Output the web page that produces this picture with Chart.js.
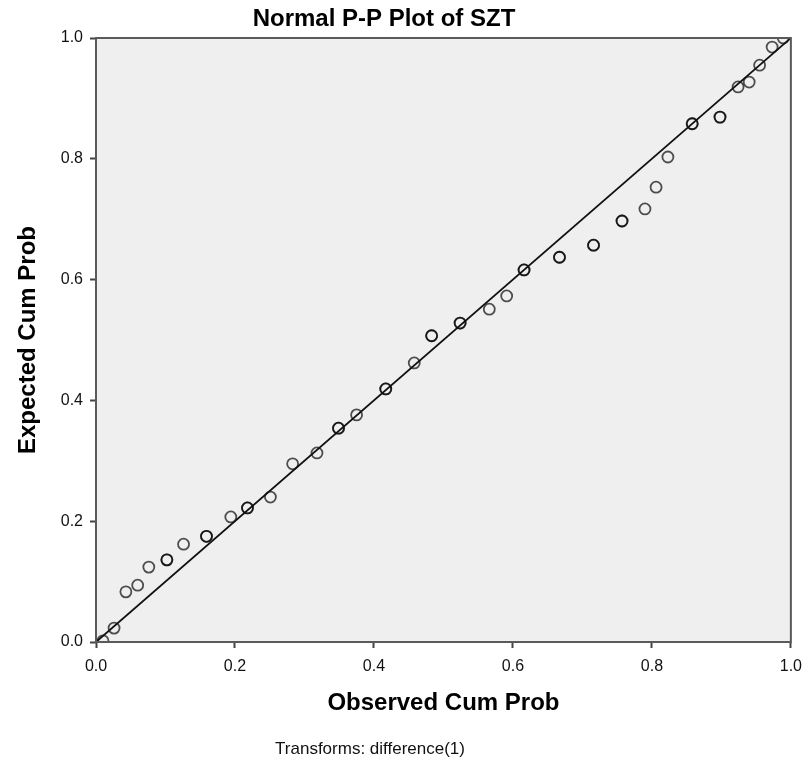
<!DOCTYPE html>
<html>
<head>
<meta charset="utf-8">
<script src="https://cdn.jsdelivr.net/npm/chart.js@4.4.1/dist/chart.umd.min.js"></script>
<style>
  html, body { margin: 0; padding: 0; background: #fff; }
  #container-canvas { width: 811px; height: 769px; }
</style>
</head>
<body>
<div id="container-canvas"><canvas id="ppChart"></canvas></div>
<script>
// observed vs expected cumulative probabilities
const observedCumProb = [0.010, 0.026, 0.043, 0.060, 0.076, 0.102, 0.126, 0.159, 0.194, 0.218,
  0.251, 0.283, 0.318, 0.349, 0.375, 0.417, 0.458, 0.483, 0.524, 0.566,
  0.591, 0.616, 0.667, 0.716, 0.757, 0.790, 0.806, 0.823, 0.858, 0.898,
  0.924, 0.940, 0.955, 0.973, 0.989]
const expectedCumProb = [0.002, 0.023, 0.083, 0.094, 0.124, 0.136, 0.162, 0.175, 0.207, 0.222,
  0.240, 0.295, 0.313, 0.354, 0.376, 0.419, 0.462, 0.507, 0.528, 0.551,
  0.573, 0.616, 0.637, 0.657, 0.697, 0.717, 0.753, 0.803, 0.858, 0.869,
  0.919, 0.927, 0.955, 0.985, 1.000]
// cases sharing the same point (drawn on top of each other, so they look darker)
const tiedCases = [1, 1, 1, 1, 1, 2, 1, 2, 1, 2,
  1, 1, 1, 2, 1, 2, 1, 2, 2, 1,
  1, 2, 2, 2, 2, 1, 1, 1, 2, 2,
  1, 1, 1, 1, 1]
const referenceLine = [0, 1]
const tickValues = [0, 0.2, 0.4, 0.6, 0.8, 1.0]

const chartTitle = 'Normal P-P Plot of SZT'
const xTitle = 'Observed Cum Prob'
const yTitle = 'Expected Cum Prob'
const footNote = 'Transforms: difference(1)'

const FONT = "'Liberation Sans', Arial, sans-serif"

let points = []
observedCumProb.forEach((x, i) => {
  for (let k = 0; k < tiedCases[i]; k++) {
    points.push({ x: x, y: expectedCumProb[i] })
  }
})

const plotFrame = {
  id: 'plotFrame',
  beforeDatasetsDraw(chart) {
    const { ctx, chartArea } = chart
    ctx.save()
    ctx.fillStyle = '#efefef'
    ctx.fillRect(chartArea.left, chartArea.top, chartArea.width, chartArea.height)
    ctx.restore()
  },
  afterDraw(chart) {
    const { ctx, chartArea } = chart
    ctx.save()
    ctx.strokeStyle = '#5a5a5a'
    ctx.lineWidth = 2
    ctx.strokeRect(chartArea.left, chartArea.top, chartArea.width, chartArea.height)
    ctx.textAlign = 'center'
    ctx.textBaseline = 'middle'
    // title on top, footnote under the axis title
    ctx.fillStyle = '#000'
    ctx.font = "bold 24px " + FONT
    ctx.fillText(chartTitle, 384, 19)
    ctx.fillStyle = '#111'
    ctx.font = "17px " + FONT
    ctx.fillText(footNote, 370, 749)
    ctx.restore()
  }
}

const axisTicks = scale => {
  scale.ticks = tickValues.map(v => ({ value: v }))
}

new Chart(document.getElementById('ppChart'), {
  data: {
    datasets: [
      {
        type: 'line',
        data: referenceLine.map(v => ({ x: v, y: v })),
        borderColor: '#111',
        borderWidth: 1.8,
        pointRadius: 0,
        order: 1
      },
      {
        type: 'scatter',
        data: points,
        pointRadius: 5.5,
        pointBorderWidth: 1.8,
        borderColor: 'rgba(0,0,0,0.68)',
        backgroundColor: 'rgba(0,0,0,0)',
        order: 2
      }
    ]
  },
  plugins: [plotFrame],
  options: {
    responsive: true,
    maintainAspectRatio: false,
    animation: false,
    devicePixelRatio: 1,
    layout: { padding: { left: 6, right: 19, top: 38, bottom: 30 } },
    plugins: {
      legend: { display: false },
      tooltip: { enabled: false },
      title: { display: false }
    },
    scales: {
      x: {
        type: 'linear',
        min: 0,
        max: 1,
        afterBuildTicks: axisTicks,
        afterFit: scale => { scale.height = 97 },
        ticks: {
          color: '#111',
          font: { family: FONT, size: 16 },
          padding: 9,
          callback: v => v.toFixed(1)
        },
        grid: { drawOnChartArea: false, drawTicks: true, tickLength: 6, tickWidth: 2, color: '#444' },
        border: { display: false },
        title: {
          display: true,
          text: xTitle,
          color: '#000',
          font: { family: FONT, size: 24, weight: 'bold' },
          padding: { top: 0, bottom: 21 }
        }
      },
      y: {
        type: 'linear',
        min: 0,
        max: 1,
        afterBuildTicks: axisTicks,
        afterFit: scale => { scale.width = 90 },
        ticks: {
          color: '#111',
          font: { family: FONT, size: 16 },
          padding: 7,
          callback: v => v.toFixed(1)
        },
        grid: { drawOnChartArea: false, drawTicks: true, tickLength: 6, tickWidth: 2, color: '#444' },
        border: { display: false },
        title: {
          display: true,
          text: yTitle,
          color: '#000',
          font: { family: FONT, size: 24, weight: 'bold' },
          padding: { top: 8, bottom: 0 }
        }
      }
    }
  }
})
</script>
</body>
</html>
